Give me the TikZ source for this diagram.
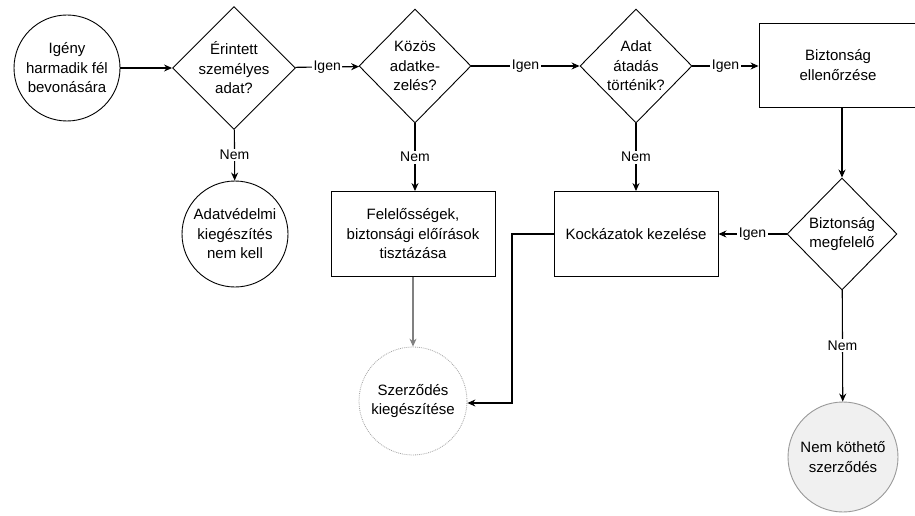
\documentclass[tikz,border=0pt]{standalone}
\usepackage{fontspec}
\setmainfont{Liberation Sans}
\usetikzlibrary{shapes.geometric,arrows.meta}
\begin{document}
\begin{tikzpicture}[x=1pt,y=-1pt,
  every node/.style={font=\fontsize{15}{19.5}\selectfont, align=center, inner sep=0pt},
  circ/.style={circle, draw, line width=0.9pt, minimum size=106pt},
  dia/.style={diamond, draw, line width=0.9pt, minimum width=112pt, minimum height=114pt},
  box/.style={rectangle, draw, line width=0.9pt, minimum width=164pt, minimum height=85pt},
  conn/.style={line width=1.1pt, -{Stealth[length=8pt,width=7pt]}},
  lbl/.style={fill=white, inner sep=1.5pt, font=\fontsize{14}{16}\selectfont}]
\useasboundingbox (0,0) rectangle (915,516);
\node[circ] (start) at (67,68) {Igény\\harmadik fél\\bevonására};
\node[dia] (d1) at (234,68) {Érintett\\személyes\\adat?};
\node[dia] (d2) at (415,66) {Közös\\adatke-\\zelés?};
\node[dia] (d3) at (636,66) {Adat\\átadás\\történik?};
\node[box, minimum width=158pt, minimum height=84pt] (bell) at (838,65) {Biztonság\\ellenőrzése};
\node[dia, minimum width=110pt, minimum height=112pt] (d4) at (842,234) {Biztonság\\megfelelő};
\node[box] (kock) at (636,234) {Kockázatok kezelése};
\node[box] (fel) at (413,234) {Felelősségek,\\biztonsági előírások\\tisztázása};
\node[circ] (adatv) at (235,234) {Adatvédelmi\\kiegészítés\\nem kell};
\node[circ, draw=gray!70, densely dotted, line width=0.8pt, minimum size=108pt] (szerz) at (413,401) {Szerződés\\kiegészítése};
\node[circ, fill=gray!12, draw=gray!80, minimum size=110pt] (nemk) at (843,457) {Nem köthető\\szerződés};
\coordinate (bend1) at (512,234);
\coordinate (bend2) at (512,403);

\draw[conn] (start) -- (d1);
\draw[conn] (d1) -- node[lbl]{Igen} (d2);
\draw[conn] (d2) -- node[lbl]{Igen} (d3);
\draw[conn] (d3) -- node[lbl]{Igen} (bell.west |- d3);
\draw[conn] (d1) -- node[lbl]{Nem} (adatv);
\draw[conn] (d2) -- node[lbl]{Nem} (fel.north -| d2);
\draw[conn] (d3) -- node[lbl]{Nem} (kock);
\draw[conn] (bell.south -| d4) -- (d4);
\draw[conn] (d4) -- node[lbl]{Igen} (kock);
\draw[conn] (d4) -- node[lbl]{Nem} (nemk);
\draw[conn, draw=gray] (fel) -- (szerz);
\draw[conn] (kock.west) -- (bend1) -- (bend2) -- (szerz.east |- bend2);
\end{tikzpicture}
\end{document}
